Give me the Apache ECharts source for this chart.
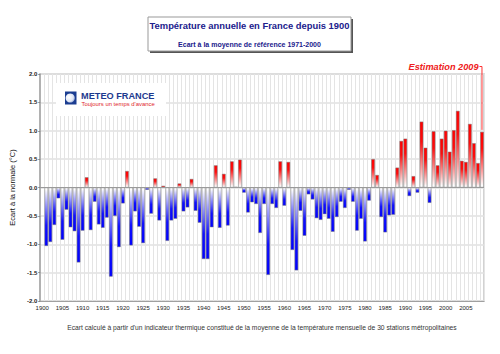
<!DOCTYPE html>
<html><head><meta charset="utf-8">
<script src="https://cdn.jsdelivr.net/npm/echarts@6/dist/echarts.min.js"></script>
<style>html,body{margin:0;padding:0;background:#fff}#c{width:500px;height:354px}</style>
</head><body><div id="c"></div>
<script>
const years = ['1900','1901','1902','1903','1904','1905','1906','1907','1908','1909',
'1910','1911','1912','1913','1914','1915','1916','1917','1918','1919',
'1920','1921','1922','1923','1924','1925','1926','1927','1928','1929',
'1930','1931','1932','1933','1934','1935','1936','1937','1938','1939',
'1940','1941','1942','1943','1944','1945','1946','1947','1948','1949',
'1950','1951','1952','1953','1954','1955','1956','1957','1958','1959',
'1960','1961','1962','1963','1964','1965','1966','1967','1968','1969',
'1970','1971','1972','1973','1974','1975','1976','1977','1978','1979',
'1980','1981','1982','1983','1984','1985','1986','1987','1988','1989',
'1990','1991','1992','1993','1994','1995','1996','1997','1998','1999',
'2000','2001','2002','2003','2004','2005','2006','2007','2008','2009'];

const anomalies = [null,-1.03,-0.96,-0.66,-0.19,-0.92,-0.39,-0.70,-0.77,-1.32,
-0.76,0.18,-0.75,-0.25,-0.65,-0.71,-0.53,-1.57,-0.50,-1.05,
-0.28,0.29,-1.02,-0.42,-0.69,-0.98,-0.04,-0.46,0.16,-0.58,
0.03,-0.94,-0.58,-0.55,0.07,-0.42,-0.35,0.15,-0.41,-0.62,
-1.26,-1.26,-0.70,0.39,-0.71,0.24,-0.67,0.46,0.01,0.49,
-0.09,-0.44,-0.26,-0.29,-0.80,-0.29,-1.54,-0.29,-0.36,0.46,
-0.32,0.45,-1.10,-1.46,-0.41,-0.85,-0.12,-0.21,-0.54,-0.57,
-0.47,-0.55,-0.78,-0.52,-0.25,-0.36,-0.04,-0.25,-0.76,-0.55,
-0.95,-0.23,0.50,0.22,-0.52,-0.79,-0.49,-0.48,0.35,0.82,
0.86,-0.15,0.20,-0.09,1.16,0.70,-0.27,0.99,0.39,0.86,
1.00,0.63,1.01,1.35,0.47,0.45,1.12,0.78,0.43,0.98];

const titleText = 'Température annuelle en France depuis 1900';
const subtitleText = 'Ecart à la moyenne de référence 1971-2000';
const yAxisName = 'Ecart à la normale (°C)';
const footerText = "Ecart calculé à partir d'un indicateur thermique constitué de la moyenne de la température mensuelle de 30 stations métropolitaines";
const estimationText = 'Estimation 2009';
const estimationYear = '2009';
const logoName = 'METEO FRANCE';
const logoTagline = "Toujours un temps d'avance";

const FONT = '"Liberation Sans", Arial, sans-serif';
const chart = echarts.init(document.getElementById('c'), null, {renderer: 'svg'});

const posGrad = new echarts.graphic.LinearGradient(0, 0, 0, 1, [
  {offset: 0, color: '#ff0000'}, {offset: 0.3, color: '#ff0c0c'},
  {offset: 0.97, color: '#ffffff'}, {offset: 1, color: '#ffffff'}]);
const negGrad = new echarts.graphic.LinearGradient(0, 0, 0, 1, [
  {offset: 0, color: '#ffffff'}, {offset: 0.03, color: '#ffffff'},
  {offset: 0.65, color: '#1010ff'}, {offset: 1, color: '#0000ff'}]);

chart.setOption({
  animation: false,
  backgroundColor: '#ffffff',
  textStyle: {fontFamily: FONT},
  grid: {left: 39, right: 16, top: 74, bottom: 53, show: true, borderColor: '#c4c4c4', borderWidth: 1.5},
  xAxis: {
    type: 'category', data: years, boundaryGap: true,
    axisLine: {show: true, onZero: false, lineStyle: {color: '#a0a0a0', width: 1}},
    axisTick: {show: false},
    axisLabel: {interval: 4, fontSize: 6, color: '#222', margin: 4, fontFamily: FONT},
    splitLine: {show: true, interval: 0, lineStyle: {color: '#e4e4e4', width: 1}}
  },
  yAxis: {
    type: 'value', min: -2, max: 2, interval: 0.5,
    name: yAxisName, nameLocation: 'middle', nameGap: 17, nameRotate: 90,
    nameTextStyle: {fontSize: 7.5, color: '#111', fontFamily: FONT},
    axisLine: {show: true, lineStyle: {color: '#a0a0a0', width: 1.5}},
    axisTick: {show: true, length: 2, lineStyle: {color: '#888'}},
    axisLabel: {fontSize: 6, fontWeight: 'bold', color: '#222', margin: 3, fontFamily: FONT,
      formatter: v => v.toFixed(1)},
    splitLine: {show: true, lineStyle: {color: '#e0e0e0', width: 1.5}}
  },
  series: [{
    type: 'bar', data: anomalies, barCategoryGap: '12%',
    itemStyle: {
      color: p => (p.value >= 0 ? posGrad : negGrad),
      borderColor: '#7a7a7a', borderWidth: 0.5
    },
    markLine: {
      silent: true, symbol: 'none', label: {show: false},
      lineStyle: {color: '#9a9a9a', type: 'solid', width: 1},
      data: [{yAxis: 0}]
    }
  }]
});

const estIdx = years.indexOf(estimationYear);
const estPt = chart.convertToPixel({seriesIndex: 0}, [estIdx, anomalies[estIdx]]);

chart.setOption({
  graphic: [
    {type: 'rect', z: 100, shape: {x: 150, y: 19, width: 203, height: 34}, style: {fill: '#555'}},
    {type: 'rect', z: 101, shape: {x: 148, y: 17, width: 203, height: 34}, style: {fill: '#fff', stroke: '#999', lineWidth: 1}},
    {type: 'text', z: 102, x: 249.5, y: 25, style: {text: titleText, font: 'bold 9.4px ' + FONT, fill: '#20208c', align: 'center', verticalAlign: 'middle'}},
    {type: 'text', z: 102, x: 249.5, y: 44.5, style: {text: subtitleText, font: 'bold 7px ' + FONT, fill: '#20208c', align: 'center', verticalAlign: 'middle'}},
    {type: 'rect', z: 100, shape: {x: 56, y: 83, width: 110, height: 33}, style: {fill: '#fff'}},
    {type: 'rect', z: 101, shape: {x: 65, y: 91.5, width: 11.5, height: 13}, style: {fill: '#1b3d91'}},
    {type: 'circle', z: 102, shape: {cx: 70.2, cy: 98, r: 4.6}, style: {
      fill: new echarts.graphic.RadialGradient(0.35, 0.4, 0.8, [{offset: 0, color: '#ffffff'}, {offset: 0.6, color: '#dfe6f5'}, {offset: 1, color: '#6f86c4'}])}},
    {type: 'text', z: 102, x: 81, y: 95.5, style: {text: logoName, font: 'bold 9.2px ' + FONT, fill: '#1d3a8f', align: 'left', verticalAlign: 'middle'}},
    {type: 'text', z: 102, x: 81.5, y: 103.5, style: {text: logoTagline, font: '5.9px ' + FONT, fill: '#e0262b', align: 'left', verticalAlign: 'middle'}},
    {type: 'text', z: 102, x: 478.5, y: 67, style: {text: estimationText, font: 'italic bold 9.2px ' + FONT, fill: '#ee2020', align: 'right', verticalAlign: 'middle'}},
    {type: 'polyline', z: 102, shape: {points: [[479.5, 66.5], [estPt[0], 66.5], [estPt[0], estPt[1] - 2]]}, style: {stroke: '#ff3030', lineWidth: 1, fill: null}},
    {type: 'text', z: 102, x: 262, y: 327, style: {text: footerText, font: '6.7px ' + FONT, fill: '#333', align: 'center', verticalAlign: 'middle'}}
  ]
});
</script></body></html>
